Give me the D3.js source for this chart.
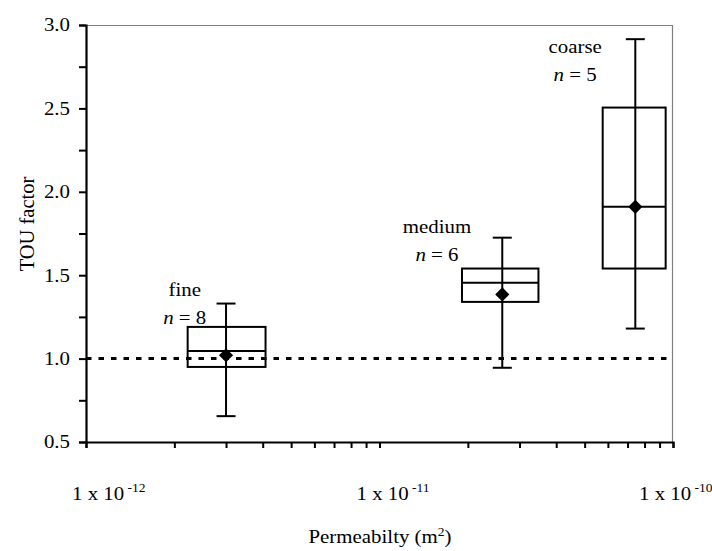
<!DOCTYPE html>
<html>
<head>
<meta charset="utf-8">
<script src="https://cdn.jsdelivr.net/npm/d3@7/dist/d3.min.js"></script>
<style>
  html, body { margin: 0; padding: 0; background: #fff; }
  svg { display: block; }
  svg text { font-family: "Liberation Serif", "Times New Roman", Times, "DejaVu Serif", serif; }
</style>
</head>
<body>
<svg id="chart" width="712" height="551"></svg>
<script>
// Grain-size classes and their TOU factor distributions
const categories  = ["fine", "medium", "coarse"];
const sampleSize  = [8, 6, 5];
// representative permeability (m²) and the permeability span covered by each box
const permCenter  = [3.0e-12, 2.62e-11, 7.44e-11];
const permLow     = [2.22e-12, 1.91e-11, 5.76e-11];
const permHigh    = [4.09e-12, 3.48e-11, 9.44e-11];
// box-plot statistics
const whiskerLow  = [0.655, 0.945, 1.18];
const quartile1   = [0.95, 1.34, 1.54];
const medians     = [1.045, 1.455, 1.91];
const quartile3   = [1.19, 1.54, 2.505];
const whiskerHigh = [1.33, 1.725, 2.915];
const means       = [1.02, 1.385, 1.91];
// reference level
const referenceLevel = 1.0;
// axis ticks
const yTicks      = [0.5, 0.75, 1.0, 1.25, 1.5, 1.75, 2.0, 2.25, 2.5, 2.75, 3.0];
const yTickLabels = ["0.5", "", "1.0", "", "1.5", "", "2.0", "", "2.5", "", "3.0"];
const xDecades    = [1e-12, 1e-11, 1e-10];
const xDecadeExp  = ["-12", "-11", "-10"];
// annotation anchors, in data units (permeability, TOU factor)
const labelPerm   = [2.17e-12, 1.57e-11, 4.64e-11];
const labelValue  = [1.207, 1.585, 2.664];

const FONT = "'Liberation Serif', 'Times New Roman', Times, 'DejaVu Serif', serif";
const FS = 18.5;      // text size
const WIDEN = 1.13;   // horizontal widening of the lettering
const svg = d3.select("#chart");
const plot = { left: 86, top: 25, right: 672.5, bottom: 442 };
// decade labels sit a little left of their ticks, more so toward the right edge
const decadeLabelShift = [-14, -23, -34];

const x = d3.scaleLog().domain([1e-12, 1e-10]).range([plot.left, 673]);
const y = d3.scaleLinear().domain([0.5, 3.0]).range([plot.bottom, plot.top]);

// widened text placed at (px, py)
function label(parent, px, py, anchor) {
  return parent.append("text")
    .attr("transform", `translate(${px},${py}) scale(${WIDEN},1)`)
    .attr("text-anchor", anchor || "start")
    .attr("font-family", FONT).attr("font-size", FS).attr("fill", "#000");
}

// minor log ticks: 1..9 of each decade
const xTicks = [];
[1e-12, 1e-11].forEach(d => { for (let m = 1; m < 10; m++) xTicks.push(m * d); });
xTicks.push(1e-10);

// frame: thin grey top and right edges
svg.append("line")
  .attr("x1", plot.left).attr("x2", plot.right)
  .attr("y1", plot.top + 0.5).attr("y2", plot.top + 0.5)
  .attr("stroke", "#808080").attr("stroke-width", 1.2);
svg.append("line")
  .attr("x1", plot.right).attr("x2", plot.right)
  .attr("y1", plot.top).attr("y2", plot.bottom)
  .attr("stroke", "#808080").attr("stroke-width", 1.2);

// reference line at TOU factor = 1
svg.append("line")
  .attr("x1", plot.left).attr("x2", plot.right)
  .attr("y1", y(referenceLevel)).attr("y2", y(referenceLevel))
  .attr("stroke", "#000").attr("stroke-width", 3)
  .attr("stroke-dasharray", "5.5,7");

// boxes
const boxes = svg.append("g").selectAll("g")
  .data(categories.map((c, i) => ({ i, c })))
  .join("g");

const capHalf = 9.5;
boxes.append("line") // whisker
  .attr("x1", d => x(permCenter[d.i])).attr("x2", d => x(permCenter[d.i]))
  .attr("y1", d => y(whiskerLow[d.i])).attr("y2", d => y(whiskerHigh[d.i]))
  .attr("stroke", "#000").attr("stroke-width", 2);
boxes.append("line") // lower cap
  .attr("x1", d => x(permCenter[d.i]) - capHalf).attr("x2", d => x(permCenter[d.i]) + capHalf)
  .attr("y1", d => y(whiskerLow[d.i])).attr("y2", d => y(whiskerLow[d.i]))
  .attr("stroke", "#000").attr("stroke-width", 2);
boxes.append("line") // upper cap
  .attr("x1", d => x(permCenter[d.i]) - capHalf).attr("x2", d => x(permCenter[d.i]) + capHalf)
  .attr("y1", d => y(whiskerHigh[d.i])).attr("y2", d => y(whiskerHigh[d.i]))
  .attr("stroke", "#000").attr("stroke-width", 2);
boxes.append("rect")
  .attr("x", d => x(permLow[d.i]))
  .attr("width", d => x(permHigh[d.i]) - x(permLow[d.i]))
  .attr("y", d => y(quartile3[d.i]))
  .attr("height", d => y(quartile1[d.i]) - y(quartile3[d.i]))
  .attr("fill", "none").attr("stroke", "#000").attr("stroke-width", 2);
boxes.append("line") // median
  .attr("x1", d => x(permLow[d.i])).attr("x2", d => x(permHigh[d.i]))
  .attr("y1", d => y(medians[d.i])).attr("y2", d => y(medians[d.i]))
  .attr("stroke", "#000").attr("stroke-width", 2);
boxes.append("path") // mean marker
  .attr("transform", d => `translate(${x(permCenter[d.i])},${y(means[d.i])}) rotate(45)`)
  .attr("d", d3.symbol(d3.symbolSquare, 100)())
  .attr("fill", "#000");

// class annotations
const notes = svg.append("g");
categories.forEach((c, i) => {
  const lx = x(labelPerm[i]), ly = y(labelValue[i]);
  label(notes, lx, ly - 28, "middle").text(c);
  const t = label(notes, lx, ly, "middle");
  t.append("tspan").attr("font-style", "italic").text("n");
  t.append("tspan").text(" = " + sampleSize[i]);
});

// y axis
const yAxis = svg.append("g")
  .attr("transform", `translate(${plot.left},0)`)
  .call(d3.axisLeft(y).tickValues(yTicks).tickSize(7).tickPadding(9)
    .tickFormat((d, i) => yTickLabels[i]));
yAxis.select(".domain").attr("stroke-width", 2.2);
yAxis.selectAll(".tick line").attr("stroke-width", 2);
yAxis.selectAll(".tick text")
  .attr("font-size", FS).attr("font-family", FONT).attr("fill", "#000")
  .attr("x", -16 / WIDEN)
  .attr("transform", `scale(${WIDEN},1)`);

// x axis
const xAxis = svg.append("g")
  .attr("transform", `translate(0,${plot.bottom})`)
  .call(d3.axisBottom(x).tickValues(xTicks).tickSize(6).tickFormat(""));
xAxis.select(".domain").attr("stroke-width", 2.2);
xAxis.selectAll(".tick line").attr("stroke-width", 2);

// decade labels with superscript exponents
xDecades.forEach((d, i) => {
  const t = label(svg, x(d) + decadeLabelShift[i], 500, "start");
  t.append("tspan").text("1 x 10");
  t.append("tspan").attr("font-size", 12).attr("dx", 3).attr("dy", -8).text(xDecadeExp[i]);
});

// axis titles
svg.append("text")
  .attr("transform", "translate(34,224) rotate(-90)")
  .attr("text-anchor", "middle").attr("font-size", 20.5).attr("font-family", FONT)
  .text("TOU factor");

const xt = label(svg, 380, 543, "middle");
xt.append("tspan").text("Permeabilty (m");
xt.append("tspan").attr("font-size", 12).attr("dy", -7).text("2");
xt.append("tspan").attr("dy", 7).text(")");
</script>
</body>
</html>
